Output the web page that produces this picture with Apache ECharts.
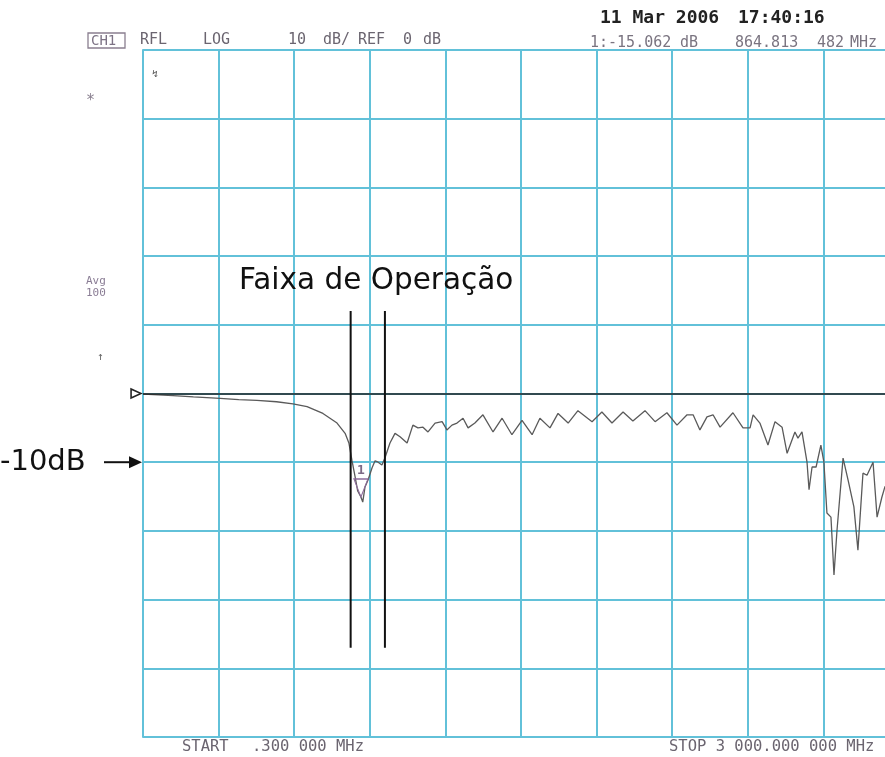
<!DOCTYPE html>
<html>
<head>
<meta charset="utf-8">
<script src="https://cdn.jsdelivr.net/npm/echarts@6/dist/echarts.min.js"></script>
<style>
  html, body { margin: 0; padding: 0; background: #ffffff; overflow: hidden; }
  #chart { width: 885px; height: 757px; }
</style>
</head>
<body>
<div id="chart"></div>
<script>
// Sweep: 0.3 MHz .. 3000 MHz, reflection (return loss) in dB
const freqMHz = [
  0.3, 60, 119, 200, 306, 380, 452, 530, 595, 651, 714, 770, 802, 817, 829, 841, 852,
  864.813, 872, 881, 893, 909, 921, 933, 948, 960, 980, 1000, 1020, 1048, 1071, 1091,
  1111, 1131, 1159, 1187, 1206, 1226, 1246, 1270, 1290, 1317, 1349, 1389, 1425, 1464,
  1504, 1544, 1575, 1615, 1647, 1687, 1726, 1782, 1821, 1861, 1905, 1944, 1992, 2032,
  2079, 2119, 2159, 2183, 2210, 2238, 2262, 2290, 2341, 2381, 2409, 2421, 2448, 2480,
  2508, 2536, 2556, 2587, 2599, 2615, 2635, 2643, 2655, 2671, 2690, 2702, 2714, 2730,
  2742, 2754, 2778, 2798, 2821, 2837, 2857, 2873, 2897, 2913, 2932, 2944, 2970, 3000
];
const reflDb = [
  -0.1, -0.2, -0.3, -0.5, -0.7, -0.9, -1.0, -1.2, -1.5, -1.9, -2.9, -4.3, -5.8, -7.2, -9.7, -12.0, -14.2,
  -15.062, -15.8, -13.6, -12.6, -10.8, -9.8, -10.0, -10.4, -9.4, -7.2, -5.8, -6.3, -7.2, -4.6, -5.0,
  -4.9, -5.6, -4.3, -4.1, -5.3, -4.6, -4.3, -3.6, -5.0, -4.3, -3.1, -5.6, -3.6, -6.0,
  -3.9, -6.0, -3.6, -5.0, -2.9, -4.3, -2.5, -4.1, -2.7, -4.3, -2.7, -4.0, -2.5, -4.1,
  -2.8, -4.6, -3.1, -3.1, -5.3, -3.4, -3.1, -4.9, -2.8, -5.0, -5.0, -3.1, -4.3, -7.5,
  -4.1, -4.9, -8.7, -5.6, -6.5, -5.6, -10.0, -14.0, -10.7, -10.7, -7.5, -10.0, -17.4, -18.0,
  -26.4, -19.9, -9.4, -12.6, -16.5, -22.8, -11.6, -11.9, -10.0, -18.0, -15.1, -13.6, -12.5, -11.0
];

// Marker 1 readout
const markerFreq = 864.813;
const markerDb = -15.062;

// Operating band edges (MHz) and the span of the drawn edge lines (dB)
const bandEdges = [824, 960];
const bandSpan = [12, -37];

// Axis scale: 10 dB/div around REF 0 dB, 300 MHz/div
const xRange = [0, 3000];
const yRange = [-50, 50];
const xStep = 300;
const yStep = 10;
const refLevel = 0;
const highlightLevel = -10;

const GRID = '#62c1d9';
const TRACE = '#5a5a5a';
const HP_TEXT = '#6b6570';
const MONO = '"DejaVu Sans Mono", "Liberation Mono", monospace';
const HAND = '"DejaVu Sans", "Open Sans", sans-serif';

const trace = freqMHz.map((f, i) => [f, reflDb[i]]);
const edgeSeries = bandEdges.map(f => ({
  type: 'line',
  data: [[f, bandSpan[0]], [f, bandSpan[1]]],
  showSymbol: false,
  silent: true,
  lineStyle: { color: '#111', width: 2 },
  z: 5
}));

const chart = echarts.init(document.getElementById('chart'), null, { renderer: 'canvas' });

// The graticule is 756 px wide and runs past the right edge of the page
const option = {
  animation: false,
  backgroundColor: '#ffffff',
  grid: {
    left: 143, top: 50, width: 756, height: 687,
    containLabel: false, outerBoundsMode: 'none'
  },
  xAxis: {
    type: 'value', min: xRange[0], max: xRange[1], interval: xStep,
    axisLine: { show: true, lineStyle: { color: GRID, width: 2 } },
    axisTick: { show: false }, axisLabel: { show: false },
    splitLine: { show: true, lineStyle: { color: GRID, width: 2 } }
  },
  yAxis: {
    type: 'value', min: yRange[0], max: yRange[1], interval: yStep,
    axisLine: { show: true, lineStyle: { color: GRID, width: 2 } },
    axisTick: { show: false }, axisLabel: { show: false },
    splitLine: { show: true, lineStyle: { color: GRID, width: 2 } }
  },
  series: [
    {
      type: 'line',
      name: 'CH1 RFL',
      data: trace,
      showSymbol: false,
      lineStyle: { color: TRACE, width: 1.3 },
      z: 4,
      markLine: {
        silent: true,
        symbol: 'none',
        label: { show: false },
        lineStyle: { color: '#222', width: 1.6, type: 'solid' },
        data: [{ yAxis: refLevel }]
      },
      markPoint: {
        silent: true,
        data: [
          {
            coord: [markerFreq, markerDb],
            symbol: 'path://M0,0 L16,0 L8,18 Z',
            symbolSize: [14, 18],
            symbolOffset: [0, -9],
            itemStyle: { color: 'rgba(0,0,0,0)', borderColor: '#8d6b9a', borderWidth: 1.2 },
            label: {
              show: true, position: 'top', distance: 1, formatter: '{u|1}',
              rich: { u: { color: '#7d6a86', fontFamily: MONO, fontSize: 13, fontWeight: 'bold' } }
            }
          },
          {
            coord: [freqMHz[0], refLevel],
            symbol: 'path://M0,0 L12,5 L0,10 Z',
            symbolSize: [10, 9],
            symbolOffset: [-7, 0],
            itemStyle: { color: '#ffffff', borderColor: '#222', borderWidth: 1.5 },
            label: { show: false }
          }
        ]
      }
    },
    ...edgeSeries
  ]
};
chart.setOption(option);

// Annotation arrow pointing at the highlighted level
const arrowY = chart.convertToPixel({ yAxisIndex: 0 }, highlightLevel);
const axisX = chart.convertToPixel({ xAxisIndex: 0 }, xRange[0]);

const txt = (x, y, s, extra) => ({
  type: 'text', x, y, silent: true,
  style: Object.assign({ text: s, fill: HP_TEXT, font: '15px ' + MONO, textVerticalAlign: 'middle' }, extra || {})
});

chart.setOption({
  graphic: [
    // header line
    { type: 'rect', shape: { x: 88, y: 33, width: 37, height: 15 }, silent: true,
      style: { fill: 'none', stroke: '#8a7f90', lineWidth: 1.3 } },
    txt(91, 41, 'CH1', { font: '14px ' + MONO, fill: '#7d7385' }),
    txt(140, 40, 'RFL'),
    txt(203, 40, 'LOG'),
    txt(288, 40, '10'),
    txt(323, 40, 'dB/'),
    txt(358, 40, 'REF'),
    txt(403, 40, '0'),
    txt(423, 40, 'dB'),
    txt(600, 18, '11 Mar 2006', { font: 'bold 18px ' + MONO, fill: '#222' }),
    txt(738, 18, '17:40:16', { font: 'bold 18px ' + MONO, fill: '#222' }),
    txt(590, 43, '1:-15.062', { fill: '#7a7480' }),
    txt(680, 43, 'dB', { fill: '#7a7480' }),
    txt(735, 43, '864.813', { fill: '#7a7480' }),
    txt(817, 43, '482', { fill: '#7a7480' }),
    txt(850, 43, 'MHz', { fill: '#7a7480' }),
    // side status marks
    txt(152, 74, '↯', { font: '10px ' + MONO, fill: '#555' }),
    txt(86, 101, '*', { font: '15px ' + MONO, fill: '#8a8090' }),
    txt(86, 281, 'Avg', { font: '11px ' + MONO, fill: '#8a7d95' }),
    txt(86, 293, '100', { font: '11px ' + MONO, fill: '#8a7d95' }),
    txt(97, 357, '↑', { font: '11px ' + MONO, fill: '#666' }),
    // footer
    txt(182, 747, 'START', { font: '15.5px ' + MONO }),
    txt(252, 747, '.300 000 MHz', { font: '15.5px ' + MONO }),
    txt(669, 747, 'STOP 3 000.000 000 MHz', { font: '15.5px ' + MONO }),
    // band caption
    txt(239, 281, 'Faixa de Operação', { font: '29.5px ' + HAND, fill: '#111' }),
    // level annotation
    txt(0, arrowY, '-10dB', { font: '29px ' + HAND, fill: '#111' }),
    { type: 'line', silent: true, shape: { x1: 104, y1: arrowY, x2: axisX - 12, y2: arrowY },
      style: { stroke: '#111', lineWidth: 2 } },
    { type: 'polygon', silent: true,
      shape: { points: [[axisX - 14, arrowY - 6], [axisX - 1, arrowY], [axisX - 14, arrowY + 6]] },
      style: { fill: '#111' } }
  ]
});
</script>
</body>
</html>
